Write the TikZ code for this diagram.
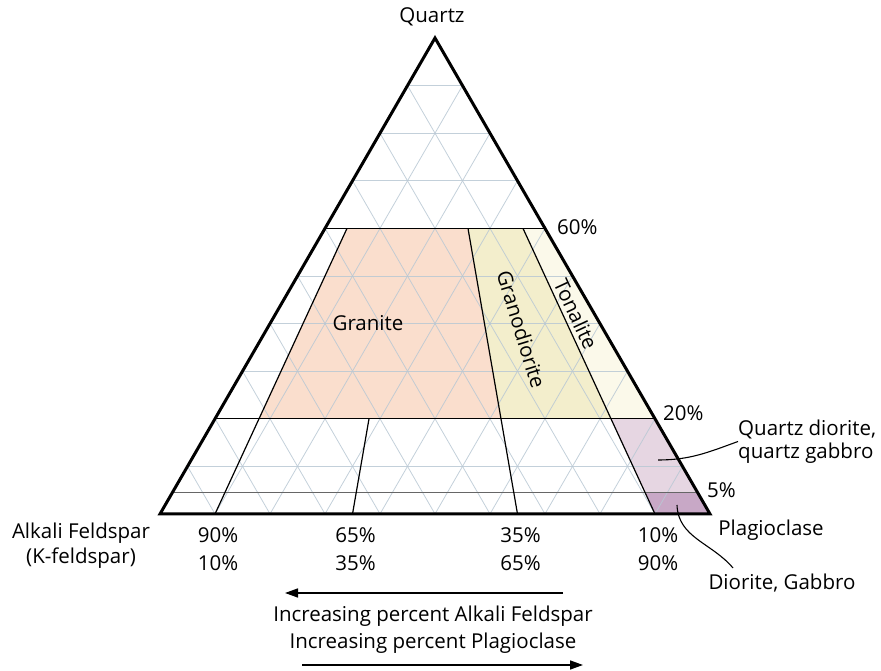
\documentclass[tikz,border=0pt]{standalone}
\usepackage{fontspec}
\setmainfont{Open Sans}
\usetikzlibrary{calc,positioning,arrows.meta}
\definecolor{granite}{RGB}{250,222,205}
\definecolor{granodiorite}{RGB}{243,238,204}
\definecolor{tonalite}{RGB}{251,249,234}
\definecolor{qdiorite}{RGB}{230,214,226}
\definecolor{diorite}{RGB}{200,168,198}
\definecolor{gridblue}{RGB}{185,200,212}
\begin{document}
\begin{tikzpicture}[x=1pt,y=1pt,
    lbl/.style={font=\fontsize{20.5}{25}\selectfont,inner sep=0pt},
    gridline/.style={draw=gridblue,line width=0.8pt,opacity=0.85},
    bound/.style={line width=1.2pt},
    leader/.style={line width=1.1pt}]
    \useasboundingbox (0,0) rectangle (881,671);
    %% Corners of the triangle
    \coordinate (A) at (160,157);
    \coordinate (P) at (710,157);
    \coordinate (Q) at (435,633);
    \foreach \r in {10,35,65,90} \coordinate (b\r) at ($(A)!0.\r!(P)$);
    %% Fields
    \fill[granite] ($(b10)!0.2!(Q)$) -- ($(b10)!0.6!(Q)$) -- ($(b65)!0.6!(Q)$) -- ($(b65)!0.2!(Q)$) -- cycle;
    \fill[granodiorite] ($(b65)!0.2!(Q)$) -- ($(b65)!0.6!(Q)$) -- ($(b90)!0.6!(Q)$) -- ($(b90)!0.2!(Q)$) -- cycle;
    \fill[tonalite] ($(b90)!0.2!(Q)$) -- ($(b90)!0.6!(Q)$) -- ($(P)!0.6!(Q)$) -- ($(P)!0.2!(Q)$) -- cycle;
    \fill[qdiorite] ($(b90)!0.045!(Q)$) -- ($(b90)!0.2!(Q)$) -- ($(P)!0.2!(Q)$) -- ($(P)!0.045!(Q)$) -- cycle;
    \fill[diorite] (b90) -- ($(b90)!0.045!(Q)$) -- ($(P)!0.045!(Q)$) -- (P) -- cycle;
    %% Grid
    \foreach \k in {0.1,0.2,...,0.9} {
        \draw[gridline] ($(A)!\k!(Q)$) -- ($(P)!\k!(Q)$);
        \draw[gridline] ($(A)!\k!(P)$) -- ($(Q)!\k!(P)$);
        \draw[gridline] ($(P)!\k!(A)$) -- ($(Q)!\k!(A)$);
    }
    %% Field boundaries
    \draw[bound] ($(A)!0.6!(Q)$) -- ($(P)!0.6!(Q)$);
    \draw[bound] ($(A)!0.2!(Q)$) -- ($(P)!0.2!(Q)$);
    \draw[bound,draw=black!60,line width=1.8pt] ($(A)!0.045!(Q)$) -- ($(P)!0.045!(Q)$);
    \draw[bound] (b10) -- ($(b10)!0.6!(Q)$);
    \draw[bound] (b35) -- ($(b35)!0.2!(Q)$);
    \draw[bound] (b65) -- ($(b65)!0.6!(Q)$);
    \draw[bound] (b90) -- ($(b90)!0.6!(Q)$);
    \draw[line width=3pt,line join=miter] (A) -- (P) -- (Q) -- cycle;
    %% Field names
    \node[lbl] (granitelab) at (368,348) {Granite};
    \node[lbl,rotate=-73] (granodioritelab) at (521.5,341.5) {Granodiorite};
    \node[lbl,rotate=-65] (tonalitelab) at (576,357) {Tonalite};
    %% Quartz percentages
    \node[lbl,anchor=west] (q60) at (557,444) {60\%};
    \node[lbl,anchor=west] (q20) at (663,258) {20\%};
    \node[lbl,anchor=west] (q5) at (707,181) {5\%};
    %% Corners
    \node[lbl] (quartz) at (432,654) {Quartz};
    \node[lbl,align=center] (alkali) at (81,125) {Alkali Feldspar\\(K-feldspar)};
    \node[lbl] (plag) at (771,141) {Plagioclase};
    %% Feldspar ratios
    \foreach \r/\a in {10/90,35/65,65/35,90/10}
        \node[lbl,align=center,font=\fontsize{20.5}{28}\selectfont] (pct\r) at ($(b\r)+(3,-35)$) {\a\%\\\r\%};
    %% Small fields
    \node[lbl,anchor=west,align=left,font=\fontsize{20.5}{23}\selectfont] (qdlab) at (738,229.5) {Quartz diorite,\\quartz gabbro};
    \node[lbl] (dglab) at (782,88) {Diorite, Gabbro};
    \coordinate (qdpt) at (658,211);
    \coordinate (dgpt) at (677,166);
    \coordinate (dgend) at (733,103);
    \draw[leader] (qdpt) to[out=0,in=200] (qdlab.west);
    \draw[leader] (dgpt) to[out=-88,in=130] (dgend);
    %% Trend arrows
    \node[lbl,align=center,font=\fontsize{20.5}{27}\selectfont] (trend) at (433,41) {Increasing percent Alkali Feldspar\\Increasing percent Plagioclase};
    \coordinate (alkS) at (563,78);
    \coordinate (alkE) at (285,78);
    \coordinate (plaS) at (302,6);
    \coordinate (plaE) at (583,6);
    \draw[line width=1.5pt,-{Triangle[length=13pt,width=9pt]}] (alkS) -- (alkE);
    \draw[line width=1.5pt,-{Triangle[length=13pt,width=9pt]}] (plaS) -- (plaE);
\end{tikzpicture}
\end{document}
